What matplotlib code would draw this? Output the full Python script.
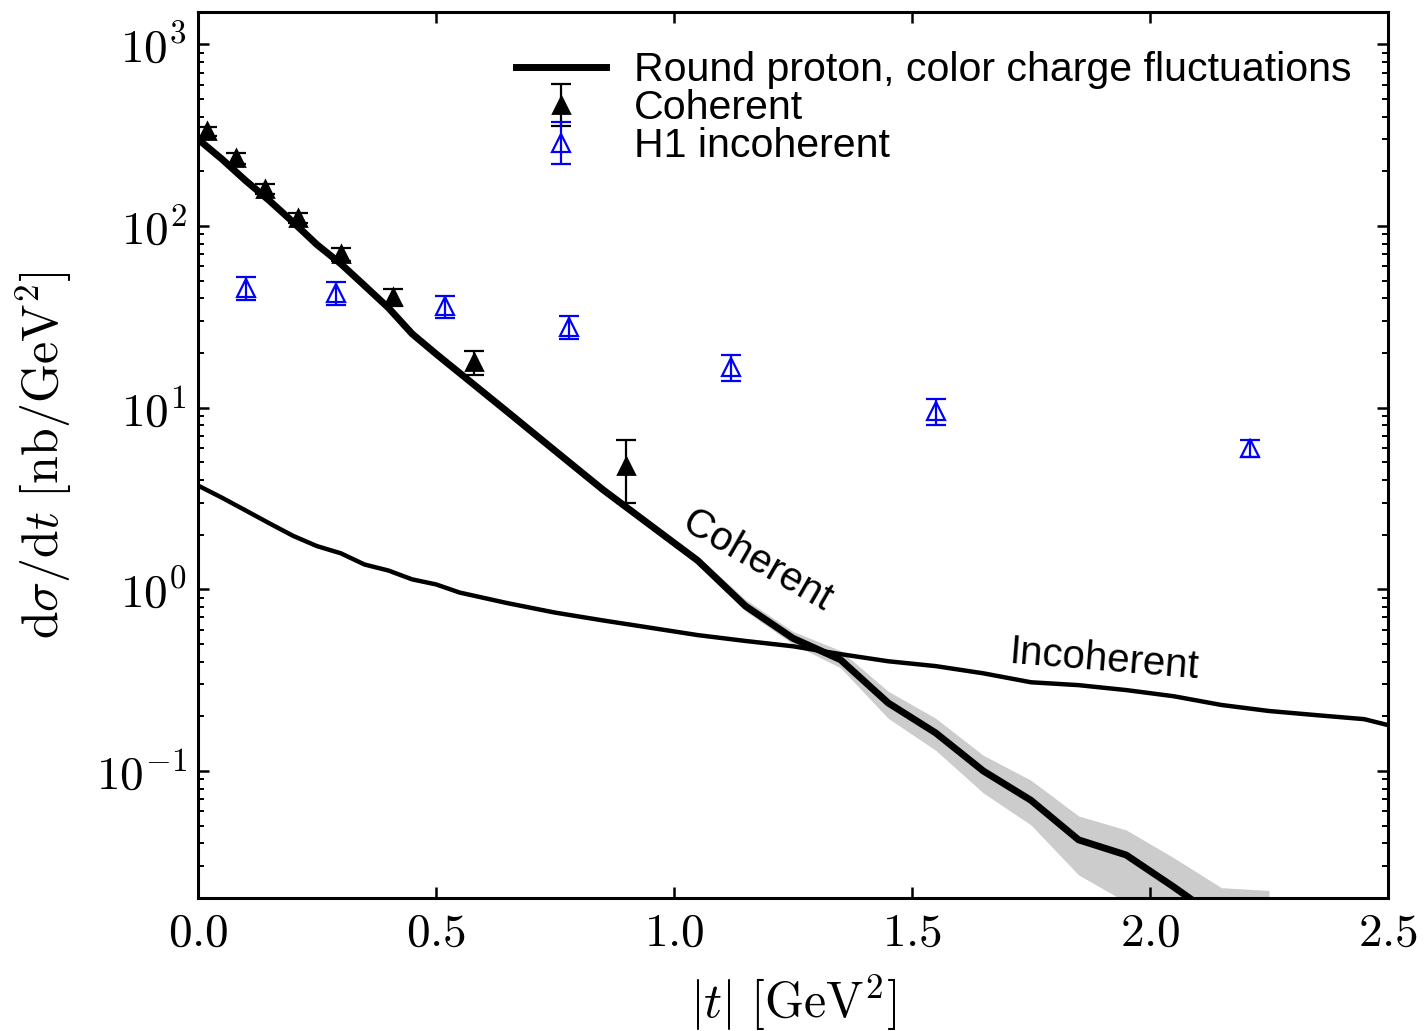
import matplotlib
matplotlib.use("Agg")
import matplotlib.pyplot as plt
from matplotlib.ticker import FuncFormatter, LogLocator, NullLocator
import numpy as np

plt.rcParams["mathtext.fontset"] = "cm"
plt.rcParams["font.family"] = ["Liberation Sans", "DejaVu Sans"]

# Model curves: coherent cross section with uncertainty band, incoherent cross section
t_coh = [0.00, 0.05, 0.10, 0.15, 0.20, 0.25, 0.30, 0.35, 0.40, 0.45, 0.50,
         0.55, 0.65, 0.75, 0.85, 0.95, 1.05, 1.15, 1.25, 1.35, 1.45, 1.55,
         1.65, 1.75, 1.85, 1.95, 2.05, 2.15, 2.25]
coh = [301, 234, 178, 138, 105, 79, 62, 47, 35.5, 25.5, 19.8,
       15.5, 9.5, 5.8, 3.55, 2.26, 1.44, 0.81, 0.538, 0.41, 0.237, 0.162,
       0.100, 0.069, 0.0418, 0.0345, 0.023, 0.015, 0.0100]
coh_hi = [306, 238, 181, 140, 107, 80.5, 63, 48, 36.2, 26, 20.2,
          15.9, 9.8, 6.0, 3.7, 2.38, 1.52, 0.88, 0.587, 0.46, 0.275, 0.195,
          0.122, 0.089, 0.0566, 0.0474, 0.0333, 0.0228, 0.022]
coh_lo = [296, 230, 175, 136, 103, 77.5, 61, 46, 34.8, 25, 19.4,
          15.1, 9.2, 5.6, 3.4, 2.15, 1.37, 0.76, 0.50, 0.37, 0.195, 0.13,
          0.0757, 0.0505, 0.0268, 0.019, 0.012, 0.008, 0.006]

t_inc = [0.00, 0.05, 0.10, 0.15, 0.20, 0.25, 0.30, 0.35, 0.40, 0.45, 0.50,
         0.55, 0.65, 0.75, 0.85, 0.95, 1.05, 1.15, 1.25, 1.35, 1.45, 1.55,
         1.65, 1.75, 1.85, 1.95, 2.05, 2.15, 2.25, 2.35, 2.45, 2.55]
inc = [3.73, 3.2, 2.72, 2.31, 1.97, 1.73, 1.58, 1.37, 1.27, 1.135, 1.065,
       0.96, 0.84, 0.745, 0.675, 0.615, 0.56, 0.52, 0.486, 0.44, 0.402, 0.378,
       0.345, 0.308, 0.297, 0.279, 0.258, 0.231, 0.214, 0.203, 0.193, 0.166]

# H1 measurements
h1_coh_t = [0.02, 0.08, 0.14, 0.21, 0.30, 0.41, 0.58, 0.90]
h1_coh = [333, 236, 160, 111, 70, 40.7, 17.9, 4.8]
h1_coh_err = [20, 16, 10, 7, 5.5, 4.5, 2.7, 1.8]

h1_inc_t = [0.10, 0.29, 0.52, 0.78, 1.12, 1.55, 2.21]
h1_inc = [45.6, 42.9, 36.3, 27.9, 16.8, 9.6, 6.0]
h1_inc_err = [6.5, 6.0, 5.0, 4.0, 2.7, 1.6, 0.65]

x_ticks = [0.0, 0.5, 1.0, 1.5, 2.0, 2.5]

fig = plt.figure(figsize=(7.12, 5.155), dpi=200)
ax = fig.add_axes([0.139, 0.129, 0.8357, 0.859])

ax.fill_between(t_coh, coh_lo, coh_hi, color="0.8", lw=0, zorder=1)
ax.plot(t_coh, coh, color="k", lw=2.5, zorder=3,
        label="Round proton, color charge fluctuations")
ax.plot(t_inc, inc, color="k", lw=1.6, zorder=3)

ax.errorbar(h1_coh_t, h1_coh, yerr=h1_coh_err, fmt="^", color="k", ms=5.8,
            elinewidth=0.8, capsize=3.5, capthick=0.8, zorder=4, label="Coherent")
ax.errorbar(h1_inc_t, h1_inc, yerr=h1_inc_err, fmt="^", color="b", mfc="none",
            mec="b", ms=6.6, mew=0.8, elinewidth=0.8, capsize=3.5, capthick=0.8,
            zorder=4, label="H1 incoherent")

ax.set_yscale("log")
ax.set_xlim(0, 2.5)
ax.set_ylim(0.02, 1500)

ax.set_xticks(x_ticks)
ax.xaxis.set_minor_locator(NullLocator())
ax.xaxis.set_major_formatter(FuncFormatter(lambda v, p: r"$%.1f$" % v))
ax.yaxis.set_major_locator(LogLocator(base=10, numticks=20))
ax.yaxis.set_minor_locator(LogLocator(base=10, subs=np.arange(2, 10), numticks=20))
ax.yaxis.set_major_formatter(FuncFormatter(lambda v, p: r"$10^{%d}$" % int(round(np.log10(v)))))

ax.tick_params(which="both", direction="in", top=True, right=True, labelsize=17)
ax.tick_params(which="major", length=4, width=0.9)
ax.tick_params(axis="x", which="major", pad=5)
ax.tick_params(axis="y", which="major", pad=4)
ax.tick_params(which="minor", length=2.2, width=0.7)
for s in ax.spines.values():
    s.set_linewidth(1.1)

ax.set_xlabel(r"$|t|\ [\mathrm{GeV}^2]$", fontsize=18, labelpad=6)
ax.set_ylabel(r"$\mathrm{d}\sigma/\mathrm{d}t\ [\mathrm{nb}/\mathrm{GeV}^2]$",
              fontsize=18, labelpad=8)

ax.text(1.174, 1.43, "Coherent", rotation=-30, fontsize=14.5,
        ha="center", va="center", rotation_mode="anchor")
ax.text(1.903, 0.407, "Incoherent", rotation=-4.7, fontsize=14.5,
        ha="center", va="center", rotation_mode="anchor")

ax.legend(loc="upper left", bbox_to_anchor=(0.267, 0.956), frameon=False,
          fontsize=14.8, handlelength=2.2, handletextpad=0.68, labelspacing=0.0,
          borderpad=0, borderaxespad=0, numpoints=1)

fig.savefig("out.png", dpi=200)
